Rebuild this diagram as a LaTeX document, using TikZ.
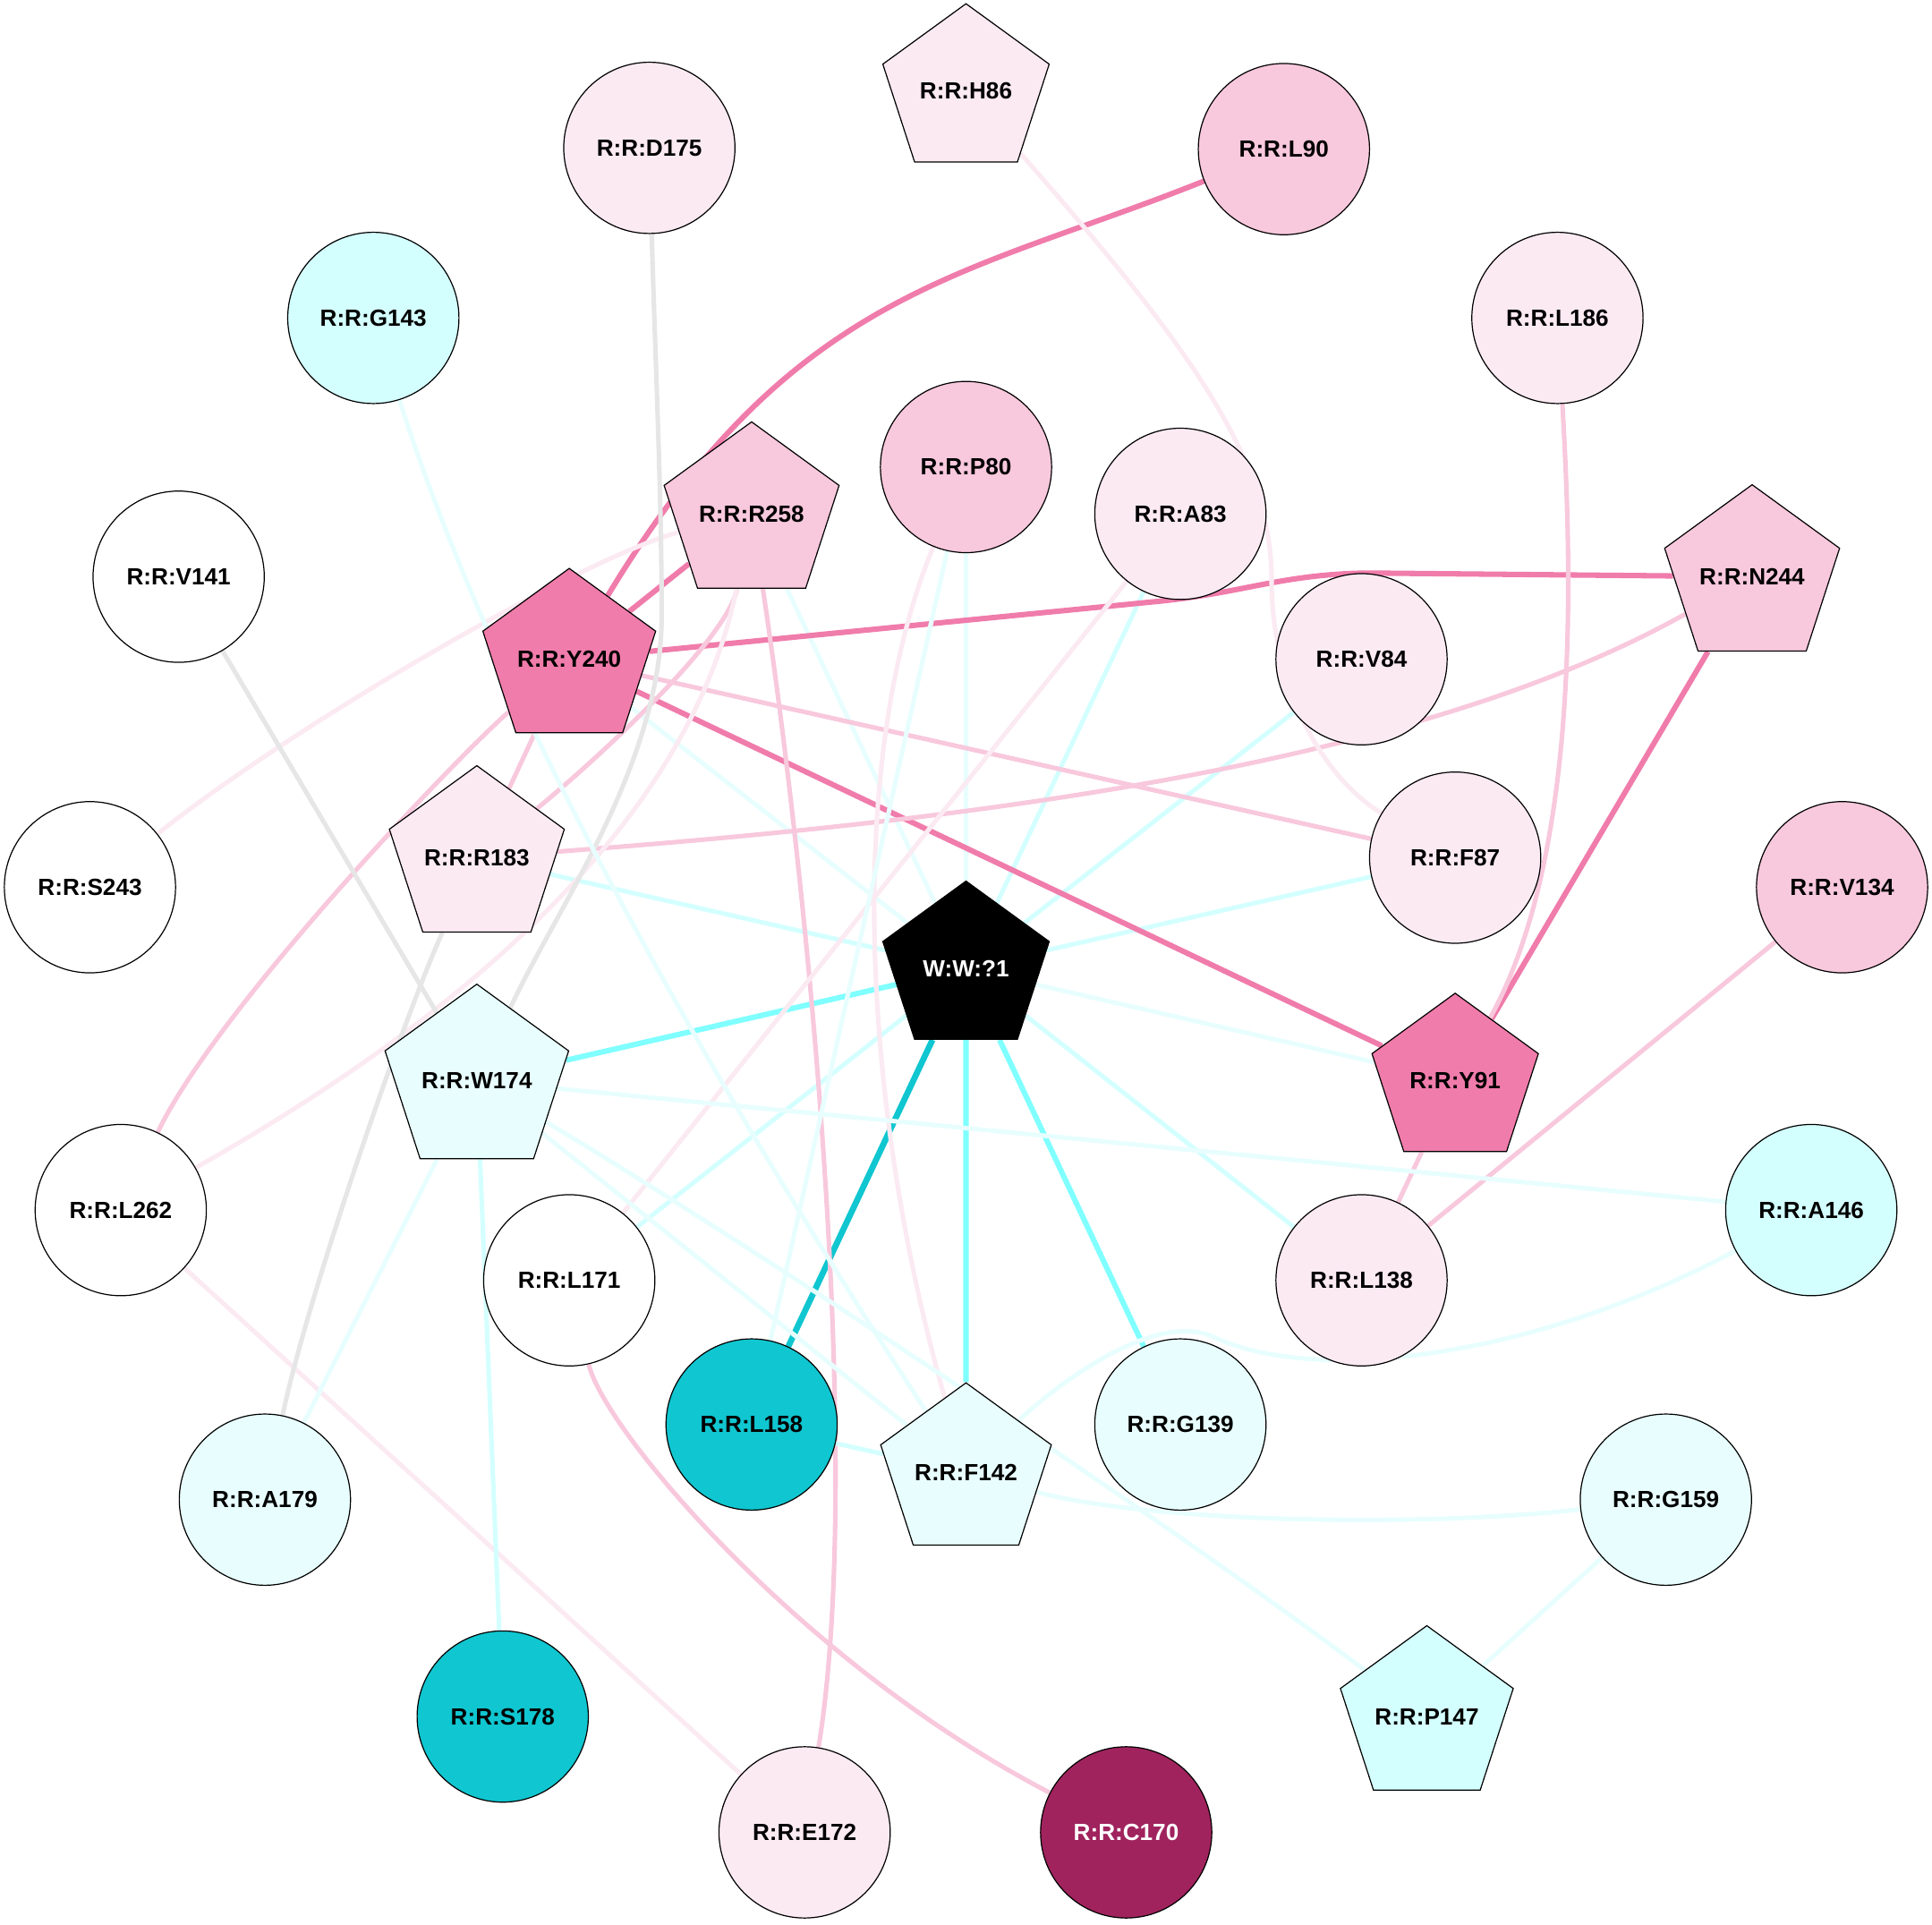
\documentclass[tikz,border=0pt]{standalone}
\usepackage{fontspec}
\setmainfont{Liberation Sans}
\usetikzlibrary{shapes.geometric,backgrounds}

\definecolor{pkdark}{HTML}{F07CAB}
\definecolor{pkmid}{HTML}{F8C8DC}
\definecolor{pklight}{HTML}{FBEAF2}
\definecolor{cyfull}{HTML}{80FFFF}
\definecolor{cymid}{HTML}{D4FFFF}
\definecolor{cylight}{HTML}{E8FEFE}
\definecolor{cyteal}{HTML}{10C6D0}
\definecolor{wine}{HTML}{A0235E}
\definecolor{edgegray}{HTML}{E6E6E6}

\tikzset{
  res/.style={circle,draw=black,line width=0.5pt,minimum size=2.78cm,inner sep=0pt,
    font=\fontsize{10.8}{12}\selectfont\bfseries},
  pent/.style={regular polygon,regular polygon sides=5,draw=black,line width=0.5pt,
    minimum size=2.84cm,inner sep=0pt,font=\fontsize{10.8}{12}\selectfont\bfseries},
  link/.style={line width=2.1pt},
  strong/.style={line width=2.5pt}
}

\begin{document}
\begin{tikzpicture}[x=0.02cm,y=-0.02cm]
        \useasboundingbox (0,0) rectangle (1568,1562);

        % outer ring
        \node[pent,fill=pklight] (H86) at (784,74) {R:R:H86};
        \node[res,fill=pklight] (D175) at (527,120) {R:R:D175};
        \node[res,fill=pkmid] (L90) at (1042,121) {R:R:L90};
        \node[res,fill=cymid] (G143) at (303,258) {R:R:G143};
        \node[res,fill=pklight] (L186) at (1264,258) {R:R:L186};
        \node[res,fill=white] (V141) at (145,468) {R:R:V141};
        \node[pent,fill=pkmid] (N244) at (1422,468) {R:R:N244};
        \node[res,fill=white] (S243) at (73,720) {R:R:S243};
        \node[res,fill=pkmid] (V134) at (1495,720) {R:R:V134};
        \node[res,fill=white] (L262) at (98,982) {R:R:L262};
        \node[res,fill=cymid] (A146) at (1470,982) {R:R:A146};
        \node[res,fill=cylight] (A179) at (215,1217) {R:R:A179};
        \node[res,fill=cylight] (G159) at (1352,1217) {R:R:G159};
        \node[res,fill=cyteal] (S178) at (408,1393) {R:R:S178};
        \node[pent,fill=cymid] (P147) at (1158,1393) {R:R:P147};
        \node[res,fill=pklight] (E172) at (653,1487) {R:R:E172};
        \node[res,fill=wine,text=white] (C170) at (914,1487) {R:R:C170};

        % inner ring
        \node[res,fill=pkmid] (P80) at (784,379) {R:R:P80};
        \node[pent,fill=pkmid] (R258) at (610,417) {R:R:R258};
        \node[res,fill=pklight] (A83) at (958,417) {R:R:A83};
        \node[pent,fill=pkdark] (Y240) at (462,535) {R:R:Y240};
        \node[res,fill=pklight] (V84) at (1105,535) {R:R:V84};
        \node[pent,fill=pklight] (R183) at (387,696) {R:R:R183};
        \node[res,fill=pklight] (F87) at (1181,696) {R:R:F87};
        \node[pent,fill=black,text=white] (W1) at (784,786) {W:W:?1};
        \node[pent,fill=cylight] (W174) at (387,877) {R:R:W174};
        \node[pent,fill=pkdark] (Y91) at (1181,877) {R:R:Y91};
        \node[res,fill=white] (L171) at (462,1039) {R:R:L171};
        \node[res,fill=pklight] (L138) at (1105,1039) {R:R:L138};
        \node[res,fill=cyteal] (L158) at (610,1156) {R:R:L158};
        \node[res,fill=cylight] (G139) at (958,1156) {R:R:G139};
        \node[pent,fill=cylight] (F142) at (784,1195) {R:R:F142};

        \begin{scope}[on background layer]
        % water contacts
        \draw[link,cylight] (W1) -- (P80);
        \draw[link,cylight] (W1) -- (R258);
        \draw[link,cymid] (W1) -- (A83);
        \draw[link,cymid] (W1) -- (V84);
        \draw[link,cymid] (W1) -- (F87);
        \draw[link,cylight] (W1) -- (Y91);
        \draw[link,cymid] (W1) -- (L138);
        \draw[strong,cyfull] (W1) -- (G139);
        \draw[strong,cyfull] (W1) -- (F142);
        \draw[line width=2.8pt,cyteal] (W1) -- (L158);
        \draw[link,cymid] (W1) -- (L171);
        \draw[strong,cyfull] (W1) -- (W174);
        \draw[link,cymid] (W1) -- (R183);
        \draw[link,cylight] (W1) -- (Y240);

        % strong pink
        \draw[strong,pkdark] (L90) .. controls (782,225) and (644,234) .. (Y240);
        \draw[strong,pkdark] (R258) -- (Y240);
        \draw[strong,pkdark] (Y240) -- (Y91);
        \draw[strong,pkdark] (N244) -- (Y91);
        \draw[strong,pkdark] (Y240) -- (940,488) .. controls (1010,481) and (1040,466) .. (1110,465) -- (N244);

        % pink
        \draw[link,pkmid] (Y240) -- (F87);
        \draw[link,pkmid] (Y240) -- (R183);
        \draw[link,pkmid] (Y240) .. controls (370,615) and (175,820) .. (L262);
        \draw[link,pkmid] (R258) .. controls (590,520) and (480,620) .. (R183);
        \draw[link,pkmid] (R258) .. controls (660,750) and (700,1200) .. (E172);
        \draw[link,pkmid] (R183) .. controls (800,665) and (1150,620) .. (N244);
        \draw[link,pkmid] (L186) .. controls (1275,450) and (1285,690) .. (Y91);
        \draw[link,pkmid] (V134) -- (L138);
        \draw[link,pkmid] (Y91) -- (L138);
        \draw[link,pkmid] (L171) .. controls (490,1160) and (650,1350) .. (C170);
        \draw[link,pklight] (H86) .. controls (960,275) and (1032,370) .. (1032,470)
            .. controls (1032,560) and (1075,632) .. (F87);
        \draw[link,pklight] (R258) .. controls (480,450) and (250,580) .. (S243);
        \draw[link,pklight] (R258) .. controls (565,640) and (420,800) .. (L262);
        \draw[link,pklight] (A83) -- (L171);
        \draw[link,pklight] (P80) .. controls (685,620) and (700,900) .. (F142);
        \draw[link,pklight] (L262) -- (E172);

        % gray
        \draw[link,edgegray] (D175) .. controls (532,300) and (537,400) .. (537,500)
            .. controls (537,620) and (450,740) .. (W174);
        \draw[link,edgegray] (V141) -- (W174);
        \draw[link,edgegray] (R183) .. controls (330,820) and (250,1050) .. (A179);

        % cyan
        \draw[link,cylight] (G143) .. controls (380,500) and (500,760) .. (F142);
        \draw[link,cylight] (P80) -- (L158);
        \draw[link,cylight] (W174) -- (A146);
        \draw[link,cylight] (W174) -- (F142);
        \draw[link,cylight] (W174) .. controls (560,980) and (900,1200) .. (P147);
        \draw[link,cymid] (W174) -- (S178);
        \draw[link,cylight] (W174) -- (A179);
        \draw[link,cymid] (L158) -- (F142);
        \draw[link,cylight] (F142) .. controls (930,1235) and (1150,1240) .. (G159);
        \draw[link,cylight] (F142) .. controls (850,1130) and (935,1062) .. (985,1085)
            .. controls (1070,1125) and (1250,1100) .. (A146);
        \draw[link,cylight] (G159) -- (P147);
        \end{scope}
\end{tikzpicture}
\end{document}
